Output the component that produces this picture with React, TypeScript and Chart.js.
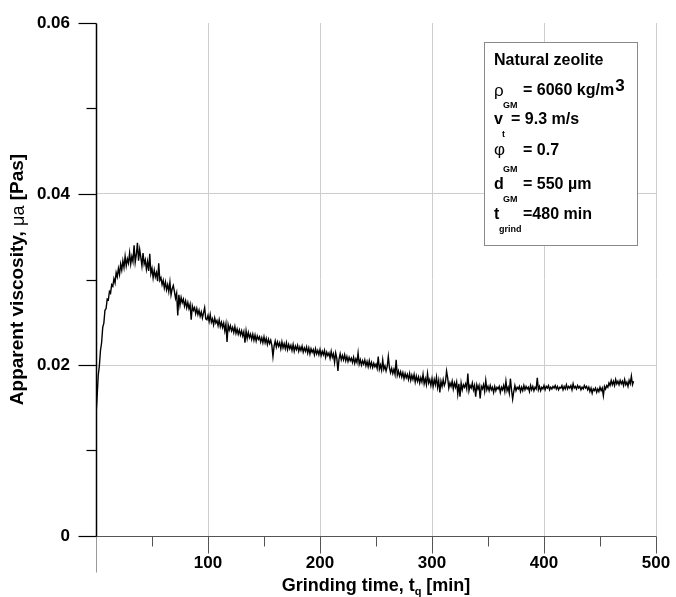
import React, { useEffect, useRef } from "react";
import { Chart, registerables } from "chart.js";

Chart.register(...registerables);

// ---- data -------------------------------------------------------------
// Sampling step of the recorded series, minutes (first sample at t = 0)
const TIME_STEP_MIN = 1;

// Apparent viscosity, Pa·s, one value every TIME_STEP_MIN minutes (0 … 480 min)
const viscosityPas: number[] = [
  0.0141, 0.0163, 0.0188, 0.0199, 0.0217, 0.0226, 0.0244, 0.0249, 0.0264, 0.0266,
  0.0277, 0.0276, 0.0286, 0.0284, 0.0294, 0.0292, 0.0301, 0.0296, 0.0308, 0.0303,
  0.0313, 0.0306, 0.0318, 0.0311, 0.0322, 0.0314, 0.0327, 0.0316, 0.0324, 0.0319,
  0.0331, 0.0318, 0.0327, 0.0321, 0.0340, 0.0320, 0.0329, 0.0343, 0.0322, 0.0335,
  0.0326, 0.0316, 0.0331, 0.0318, 0.0323, 0.0312, 0.0321, 0.0310, 0.0330, 0.0307,
  0.0313, 0.0302, 0.0311, 0.0303, 0.0308, 0.0298, 0.0319, 0.0299, 0.0302, 0.0294,
  0.0299, 0.0290, 0.0297, 0.0288, 0.0294, 0.0286, 0.0297, 0.0282, 0.0289, 0.0293,
  0.0286, 0.0278, 0.0284, 0.0258, 0.0282, 0.0270, 0.0279, 0.0273, 0.0277, 0.0269,
  0.0275, 0.0267, 0.0273, 0.0266, 0.0271, 0.0253, 0.0269, 0.0264, 0.0267, 0.0260,
  0.0266, 0.0259, 0.0264, 0.0257, 0.0262, 0.0255, 0.0261, 0.0267, 0.0254, 0.0253,
  0.0258, 0.0251, 0.0259, 0.0250, 0.0254, 0.0247, 0.0255, 0.0249, 0.0252, 0.0246,
  0.0253, 0.0245, 0.0250, 0.0244, 0.0249, 0.0240, 0.0248, 0.0227, 0.0247, 0.0241,
  0.0246, 0.0240, 0.0244, 0.0238, 0.0245, 0.0237, 0.0242, 0.0236, 0.0241, 0.0235,
  0.0240, 0.0234, 0.0239, 0.0226, 0.0240, 0.0231, 0.0238, 0.0232, 0.0236, 0.0230,
  0.0236, 0.0229, 0.0235, 0.0228, 0.0234, 0.0230, 0.0233, 0.0227, 0.0232, 0.0226,
  0.0233, 0.0226, 0.0231, 0.0224, 0.0230, 0.0225, 0.0229, 0.0223, 0.0210, 0.0222,
  0.0228, 0.0221, 0.0227, 0.0222, 0.0226, 0.0219, 0.0227, 0.0220, 0.0225, 0.0219,
  0.0226, 0.0218, 0.0224, 0.0219, 0.0223, 0.0217, 0.0224, 0.0216, 0.0222, 0.0218,
  0.0223, 0.0216, 0.0221, 0.0217, 0.0222, 0.0215, 0.0220, 0.0216, 0.0221, 0.0214,
  0.0220, 0.0213, 0.0219, 0.0215, 0.0218, 0.0212, 0.0219, 0.0213, 0.0217, 0.0212,
  0.0218, 0.0211, 0.0216, 0.0212, 0.0217, 0.0209, 0.0215, 0.0211, 0.0214, 0.0208,
  0.0216, 0.0209, 0.0213, 0.0203, 0.0214, 0.0208, 0.0193, 0.0207, 0.0213, 0.0206,
  0.0211, 0.0206, 0.0212, 0.0205, 0.0210, 0.0204, 0.0209, 0.0205, 0.0208, 0.0203,
  0.0209, 0.0202, 0.0207, 0.0203, 0.0214, 0.0201, 0.0206, 0.0200, 0.0205, 0.0201,
  0.0206, 0.0199, 0.0204, 0.0198, 0.0205, 0.0198, 0.0203, 0.0197, 0.0202, 0.0198,
  0.0201, 0.0196, 0.0210, 0.0195, 0.0200, 0.0194, 0.0206, 0.0195, 0.0199, 0.0193,
  0.0198, 0.0210, 0.0197, 0.0191, 0.0196, 0.0190, 0.0195, 0.0189, 0.0206, 0.0188,
  0.0193, 0.0187, 0.0192, 0.0186, 0.0191, 0.0184, 0.0190, 0.0185, 0.0189, 0.0183,
  0.0190, 0.0182, 0.0188, 0.0183, 0.0189, 0.0180, 0.0187, 0.0181, 0.0186, 0.0179,
  0.0185, 0.0180, 0.0189, 0.0178, 0.0184, 0.0177, 0.0190, 0.0179, 0.0183, 0.0176,
  0.0184, 0.0175, 0.0183, 0.0177, 0.0186, 0.0174, 0.0182, 0.0168, 0.0181, 0.0175,
  0.0183, 0.0176, 0.0180, 0.0193, 0.0185, 0.0173, 0.0179, 0.0175, 0.0181, 0.0172,
  0.0179, 0.0174, 0.0180, 0.0166, 0.0178, 0.0163, 0.0179, 0.0171, 0.0177, 0.0174,
  0.0178, 0.0172, 0.0190, 0.0170, 0.0176, 0.0173, 0.0179, 0.0171, 0.0176, 0.0163,
  0.0177, 0.0172, 0.0176, 0.0161, 0.0175, 0.0172, 0.0177, 0.0169, 0.0182, 0.0171,
  0.0175, 0.0170, 0.0176, 0.0171, 0.0174, 0.0168, 0.0175, 0.0170, 0.0174, 0.0172,
  0.0175, 0.0168, 0.0174, 0.0171, 0.0176, 0.0169, 0.0181, 0.0170, 0.0174, 0.0167,
  0.0184, 0.0171, 0.0160, 0.0169, 0.0176, 0.0170, 0.0174, 0.0172, 0.0175, 0.0169,
  0.0174, 0.0170, 0.0176, 0.0171, 0.0175, 0.0172, 0.0174, 0.0169, 0.0176, 0.0171,
  0.0175, 0.0170, 0.0174, 0.0172, 0.0185, 0.0171, 0.0175, 0.0170, 0.0174, 0.0172,
  0.0176, 0.0171, 0.0175, 0.0173, 0.0176, 0.0171, 0.0174, 0.0172, 0.0175, 0.0173,
  0.0176, 0.0172, 0.0175, 0.0171, 0.0174, 0.0173, 0.0176, 0.0171, 0.0175, 0.0172,
  0.0177, 0.0172, 0.0175, 0.0173, 0.0176, 0.0171, 0.0178, 0.0173, 0.0175, 0.0172,
  0.0176, 0.0173, 0.0175, 0.0171, 0.0174, 0.0172, 0.0176, 0.0173, 0.0175, 0.0171,
  0.0174, 0.0169, 0.0173, 0.0167, 0.0172, 0.0170, 0.0173, 0.0168, 0.0172, 0.0169,
  0.0174, 0.0170, 0.0173, 0.0164, 0.0175, 0.0172, 0.0176, 0.0174, 0.0179, 0.0176,
  0.0182, 0.0177, 0.0181, 0.0176, 0.0183, 0.0178, 0.0181, 0.0177, 0.0182, 0.0178,
  0.0181, 0.0176, 0.0183, 0.0177, 0.0180, 0.0175, 0.0182, 0.0178, 0.0187, 0.0177,
  0.0181,
];

// Axis ranges and tick steps
const X_MIN = 0;
const X_MAX = 500;
const X_MAJOR = 100;
const X_MINOR = 50;
const Y_MIN = 0;
const Y_MAX = 0.06;
const Y_MAJOR = 0.02;
const Y_MINOR = 0.01;

// Titles
const X_TITLE = ["Grinding time, t", "q", " [min]"];
const Y_TITLE = ["Apparent viscosity, ", "\u03bca", " [Pas]"];

// Info box lines
const INFO_TITLE = "Natural zeolite";
const INFO_SYMBOLS = ["\u03c1", "v", "\u03c6", "d", "t"];
const INFO_SUBSCRIPTS = ["GM", "t", "GM", "GM", "grind"];
const INFO_VALUES = ["= 6060 kg/m", "= 9.3 m/s", "= 0.7", "= 550 \u00b5m", "=480 min"];
const INFO_SUPERSCRIPT = "3";

const FONT = '"Liberation Sans", Arial, Helvetica, sans-serif';

function font(size: number, weight = "bold") {
  return `${weight} ${size}px ${FONT}`;
}

const decorPlugin = {
  id: "decor",
  afterDraw(chart: any) {
    const ctx: CanvasRenderingContext2D = chart.ctx;
    const xs = chart.scales.x;
    const ys = chart.scales.y;
    const px = (v: number) => Math.round(xs.getPixelForValue(v)) + 0.5;
    const py = (v: number) => Math.round(ys.getPixelForValue(v)) + 0.5;
    const x0 = px(X_MIN);
    const xEnd = px(X_MAX);
    const y0 = py(Y_MIN);
    const yTop = py(Y_MAX);

    ctx.save();
    const line = (a: number, b: number, c: number, d: number) => {
      ctx.beginPath();
      ctx.moveTo(a, b);
      ctx.lineTo(c, d);
      ctx.stroke();
    };

    // x axis line and ticks
    ctx.strokeStyle = "#555";
    ctx.lineWidth = 1;
    line(x0, y0, xEnd, y0);
    for (let v = X_MIN + X_MINOR; v <= X_MAX + 1e-9; v += X_MINOR) {
      const major = Math.abs(v / X_MAJOR - Math.round(v / X_MAJOR)) < 1e-6;
      line(px(v), y0, px(v), y0 + (major ? 17 : 10));
    }
    // y spine continues below the x axis (grey)
    ctx.strokeStyle = "#999";
    line(x0, y0, x0, y0 + 36);

    // y axis spine and ticks
    ctx.strokeStyle = "#000";
    ctx.lineWidth = 1.5;
    line(x0, yTop, x0, y0);
    ctx.lineWidth = 1.2;
    for (let i = 0; Y_MIN + i * Y_MINOR <= Y_MAX + 1e-9; i++) {
      const v = Y_MIN + i * Y_MINOR;
      const major = i % Math.round(Y_MAJOR / Y_MINOR) === 0;
      line(x0 - (major ? 18 : 10), py(v), x0, py(v));
    }

    // x title
    ctx.fillStyle = "#000";
    ctx.textBaseline = "alphabetic";
    ctx.textAlign = "left";
    const cx = (xs.getPixelForValue(X_MIN) + xs.getPixelForValue(X_MAX)) / 2;
    const xSizes = [18, 11, 18];
    let total = 0;
    X_TITLE.forEach((s, i) => {
      ctx.font = font(xSizes[i]);
      total += ctx.measureText(s).width;
    });
    let cur = cx - total / 2;
    const xBase = 591;
    X_TITLE.forEach((s, i) => {
      ctx.font = font(xSizes[i]);
      ctx.fillText(s, cur, xBase + (i === 1 ? 4 : 0));
      cur += ctx.measureText(s).width;
    });

    // y title (rotated)
    const cy = (ys.getPixelForValue(Y_MIN) + ys.getPixelForValue(Y_MAX)) / 2;
    const yFonts = [font(19), font(18, "normal"), font(19)];
    let ytotal = 0;
    Y_TITLE.forEach((s, i) => {
      ctx.font = yFonts[i];
      ytotal += ctx.measureText(s).width;
    });
    ctx.save();
    ctx.translate(23, cy);
    ctx.rotate(-Math.PI / 2);
    let ycur = -ytotal / 2;
    Y_TITLE.forEach((s, i) => {
      ctx.font = yFonts[i];
      ctx.fillText(s, ycur, i === 1 ? 1 : 0);
      ycur += ctx.measureText(s).width;
    });
    ctx.restore();

    // info box
    const bx = 484.5, by = 42.5, bw = 153, bh = 203;
    ctx.fillStyle = "#fff";
    ctx.fillRect(bx, by, bw, bh);
    ctx.strokeStyle = "#8a8a8a";
    ctx.lineWidth = 1;
    ctx.strokeRect(bx, by, bw, bh);

    ctx.fillStyle = "#000";
    ctx.font = font(16);
    ctx.fillText(INFO_TITLE, 494, 65);

    const symBase = [96, 124, 155, 189, 219];
    const subBase = [108, 137, 172, 202, 232];
    const subX = [503, 502, 503, 503, 499];
    const valX = [523, 511, 523, 523, 523];
    const valBase = [95, 124, 155, 189, 219];
    INFO_SYMBOLS.forEach((s, i) => {
      const greek = i === 0 || i === 2;
      ctx.font = greek ? font(17, "normal") : font(16);
      ctx.fillText(s, 494, symBase[i]);
      ctx.font = font(9);
      ctx.fillText(INFO_SUBSCRIPTS[i], subX[i], subBase[i]);
      ctx.font = font(16);
      ctx.fillText(INFO_VALUES[i], valX[i], valBase[i]);
      if (i === 0) {
        const w = ctx.measureText(INFO_VALUES[i]).width;
        ctx.font = font(17);
        ctx.fillText(INFO_SUPERSCRIPT, valX[i] + w + 1, 91);
      }
    });

    ctx.restore();
  },
};

export default function App() {
  const ref = useRef<HTMLCanvasElement | null>(null);

  useEffect(() => {
    const canvas = ref.current;
    if (!canvas) return;
    const points = viscosityPas.map((v, i) => ({ x: i * TIME_STEP_MIN, y: v }));
    const near = (a: number, b: number) => Math.abs(a - b) < 1e-9;
    const chart = new Chart(canvas, {
      type: "line",
      data: {
        datasets: [
          {
            data: points,
            borderColor: "#000",
            borderWidth: 1.4,
            pointRadius: 0,
            tension: 0,
            fill: false,
          },
        ],
      },
      options: {
        responsive: false,
        animation: false,
        events: [],
        layout: { padding: { top: 23, right: 20, left: 0, bottom: 0 } },
        plugins: {
          legend: { display: false },
          tooltip: { enabled: false },
          title: { display: false },
        },
        scales: {
          x: {
            type: "linear",
            min: X_MIN,
            max: X_MAX,
            border: { display: false },
            grid: {
              drawTicks: false,
              lineWidth: 1,
              color: (c: any) => (near(c.tick.value, X_MIN) ? "rgba(0,0,0,0)" : "#cdcdcd"),
            },
            ticks: {
              stepSize: X_MAJOR,
              padding: 17,
              color: "#000",
              font: { family: FONT, size: 17, weight: "bold" },
              maxRotation: 0,
              callback: (v: any) => (near(Number(v), X_MIN) ? "" : String(v)),
            },
            afterFit: (s: any) => {
              s.height = 61;
              s.paddingLeft = 0;
              s.paddingRight = 0;
            },
          },
          y: {
            type: "linear",
            min: Y_MIN,
            max: Y_MAX,
            border: { display: false },
            grid: {
              drawTicks: false,
              lineWidth: 1,
              color: (c: any) =>
                near(c.tick.value, Y_MIN) || near(c.tick.value, Y_MAX) ? "rgba(0,0,0,0)" : "#cdcdcd",
            },
            ticks: {
              stepSize: Y_MAJOR,
              padding: 26,
              color: "#000",
              font: { family: FONT, size: 17, weight: "bold" },
              callback: (v: any) => (near(Number(v), 0) ? "0" : Number(v).toFixed(2)),
            },
            afterFit: (s: any) => {
              s.width = 96;
              s.paddingTop = 0;
              s.paddingBottom = 0;
            },
          },
        },
      } as any,
      plugins: [decorPlugin],
    });
    return () => chart.destroy();
  }, []);

  return (
    <div style={{ position: "fixed", left: 0, top: 0, width: 676, height: 597, background: "#fff" }}>
      <canvas ref={ref} width={676} height={597} style={{ width: 676, height: 597, display: "block" }} />
    </div>
  );
}
